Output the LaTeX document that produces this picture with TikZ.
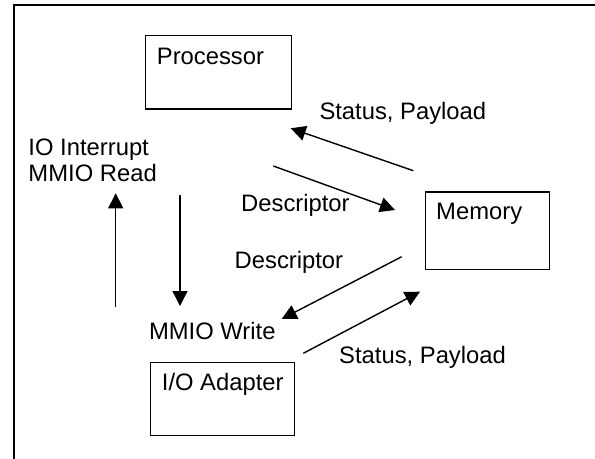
\documentclass[tikz,border=0pt]{standalone}
\usepackage{fontspec}
\setmainfont{Liberation Sans}
\usetikzlibrary{arrows.meta}

\tikzset{
  unitbox/.style={draw, line width=1.4bp, rectangle, inner sep=0pt, anchor=north west},
  txt/.style={anchor=base west, inner sep=0pt, font=\fontsize{23.8bp}{27bp}\selectfont},
  flow/.style={line width=1.4bp, -{Triangle[length=15bp,width=15bp]}},
  frameline/.style={line width=1.7bp}
}

\begin{document}
\begin{tikzpicture}[x=1bp, y=-1bp]
  \useasboundingbox (0,0) rectangle (595,459);

  % open outer frame: top and left edges only
  \coordinate (fr-tr) at (595,5);
  \coordinate (fr-tl) at (14,5);
  \coordinate (fr-bl) at (14,459);
  \draw[frameline] (fr-tr) -- (fr-tl) -- (fr-bl);

  % the three units
  \node[unitbox, minimum width=145.5bp, minimum height=73.5bp] (proc) at (145,35) {};
  \node[unitbox, minimum width=124bp, minimum height=77.5bp] (mem) at (424.5,191.5) {};
  \node[unitbox, minimum width=144bp, minimum height=73bp] (ioa) at (150,362) {};

  \node[txt] (proc-t) at (156.7,64.3) {Processor};
  \node[txt] (mem-t) at (436,220) {Memory};
  \node[txt] (ioa-t) at (161.7,390) {I/O Adapter};

  % signal labels
  \node[txt] (l-irq) at (28.3,156) {IO Interrupt};
  \node[txt] (l-rd) at (28.3,181.7) {MMIO Read};
  \node[txt] (l-wr) at (148.8,339) {MMIO Write};
  \node[txt] (l-sp1) at (319.3,120) {Status, Payload};
  \node[txt] (l-d1) at (241,211.7) {Descriptor};
  \node[txt] (l-d2) at (234.5,268.3) {Descriptor};
  \node[txt] (l-sp2) at (339,363) {Status, Payload};

  % arrow end points
  \coordinate (up-s) at (115.7,306.7);
  \coordinate (up-e) at (115.7,193.3);
  \coordinate (dn-s) at (180,195);
  \coordinate (dn-e) at (180,306);
  \coordinate (sp1-s) at (413.3,170.7);
  \coordinate (sp1-e) at (290.7,128.3);
  \coordinate (d1-s) at (273.3,166);
  \coordinate (d1-e) at (395,210);
  \coordinate (d2-s) at (401.7,256.7);
  \coordinate (d2-e) at (281.7,319);
  \coordinate (sp2-s) at (303.3,353.3);
  \coordinate (sp2-e) at (420,291.7);

  \draw[flow] (up-s) -- (up-e);
  \draw[flow] (dn-s) -- (dn-e);
  \draw[flow] (sp1-s) -- (sp1-e);
  \draw[flow] (d1-s) -- (d1-e);
  \draw[flow] (d2-s) -- (d2-e);
  \draw[flow] (sp2-s) -- (sp2-e);
\end{tikzpicture}
\end{document}
